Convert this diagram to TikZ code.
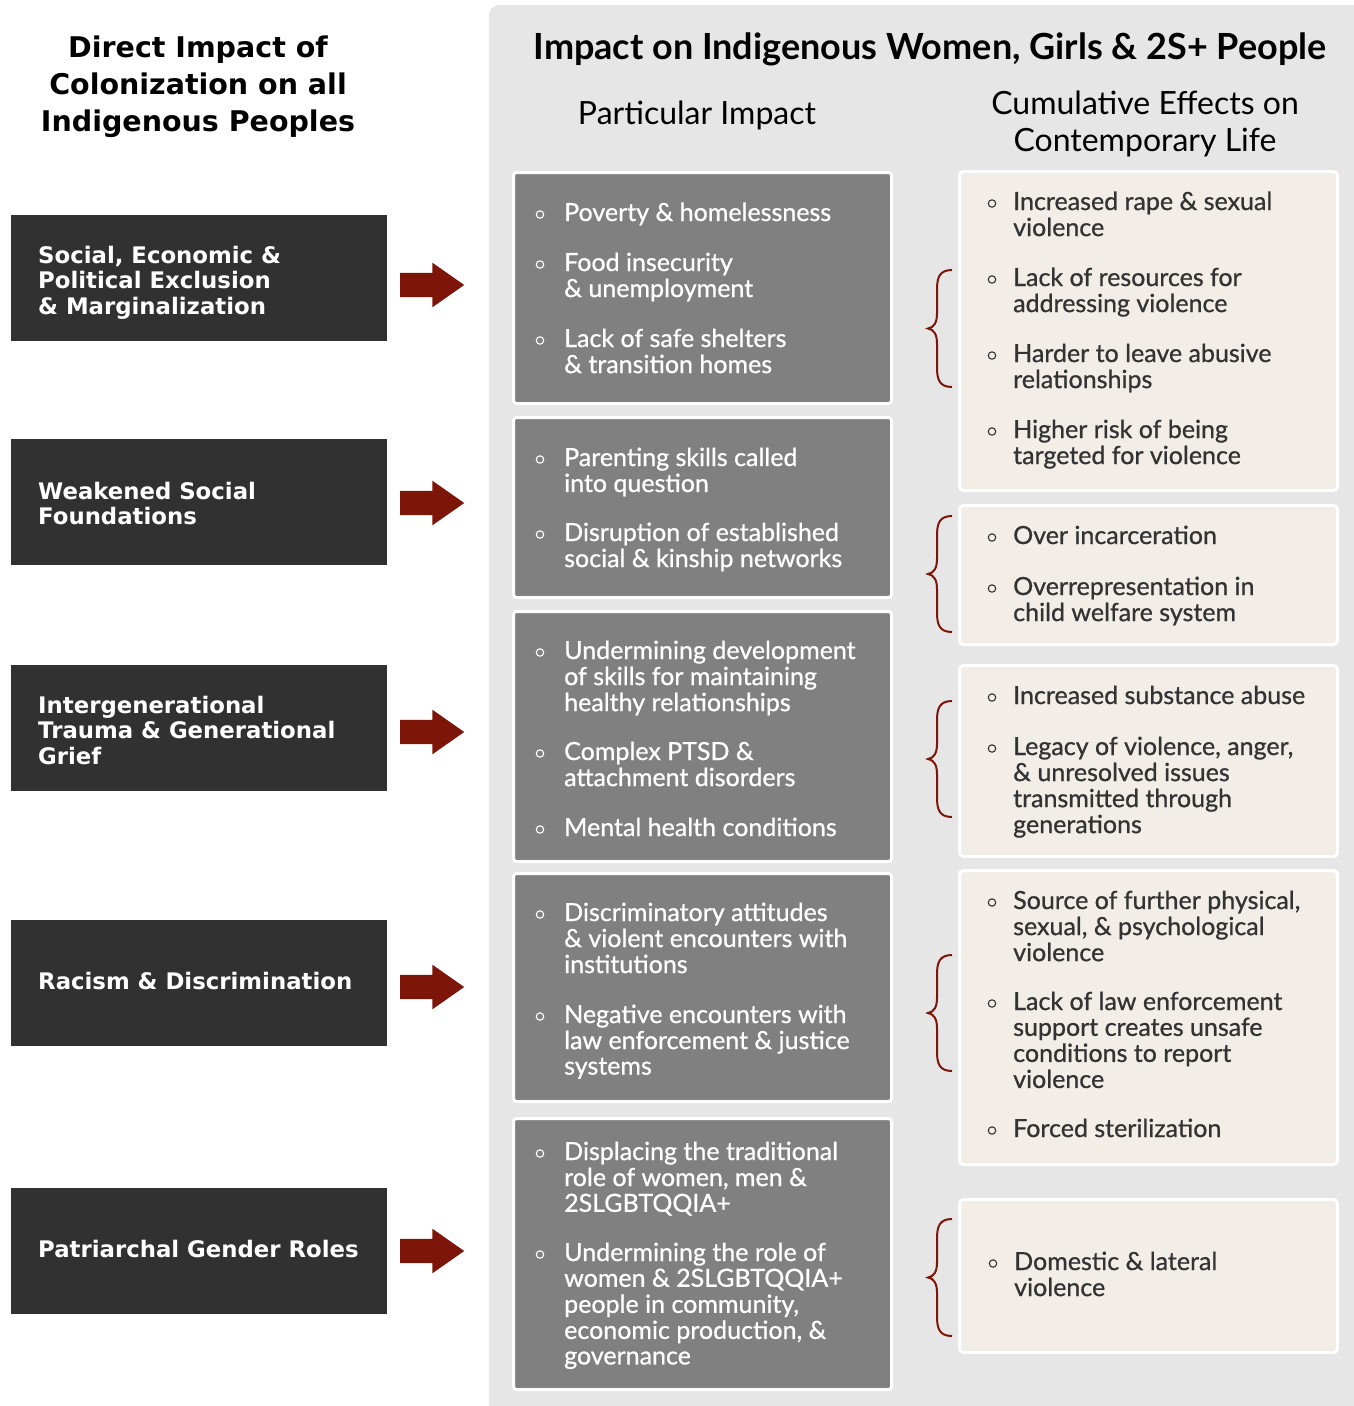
\documentclass[tikz,border=0pt]{standalone}
\usepackage{fontspec}
\setmainfont{Lato}
\newfontfamily\vfont{DejaVu Sans}
\newfontfamily\itemfont[FakeBold=0.8]{Lato}
\usetikzlibrary{shapes.arrows,calc}
\definecolor{panel}{HTML}{E6E6E6}
\definecolor{darkbox}{HTML}{313131}
\definecolor{arrowred}{HTML}{7E1509}
\definecolor{midgray}{HTML}{808080}
\definecolor{beige}{HTML}{F2EEE7}
\definecolor{txtdark}{HTML}{333333}
\newcommand\tl[1]{\begin{tabular}[t]{@{}l@{}}#1\end{tabular}}
\newcommand\tc[1]{\begin{tabular}[t]{@{}c@{}}#1\end{tabular}}
\newcommand\bitem[6]{%
  \node[itemtxt, text=#4, anchor=base west] (#1) at (#2,#3+2) {\tl{#6}};
  \draw[#4, line width=1.1pt] ($(#1.base west)+(-#5,-6.5)$) circle (3.7pt);
}
\tikzset{
  leftbox/.style={fill=darkbox, anchor=north west, inner sep=0pt, minimum width=376pt, minimum height=126pt},
  lefttxt/.style={text=white, font=\vfont\bfseries\fontsize{22.8}{25.5}\selectfont, inner sep=0pt, anchor=base west},
  redarrow/.style={single arrow, fill=arrowred, inner sep=0pt, minimum height=64pt, single arrow head extend=10pt, single arrow tip angle=70, anchor=tail},
  midbox/.style={fill=midgray, draw=white, line width=3pt, rounded corners=3pt, anchor=north west, inner sep=0pt},
  rightbox/.style={fill=beige, draw=white, line width=3pt, rounded corners=4pt, anchor=north west, inner sep=0pt},
  itemtxt/.style={font=\itemfont\fontsize{25}{25.5}\selectfont, inner sep=0pt},
  bracepath/.style={draw=arrowred, line width=2pt},
}
\newcommand\brc[2]{% top y, bottom y
  \pgfmathsetmacro\ym{(#1+#2)/2}
  \draw[bracepath] (952,#1) .. controls (939,#1) and (937,#1+8) .. (937,#1+20) -- (937,\ym-15) .. controls (937,\ym-6) and (934,\ym-1) .. (928,\ym) .. controls (934,\ym+1) and (937,\ym+6) .. (937,\ym+15) -- (937,#2-20) .. controls (937,#2-8) and (939,#2) .. (952,#2);
}
\begin{document}
\begin{tikzpicture}[x=1pt,y=-1pt]
\useasboundingbox (0,0) rectangle (1354,1406);
\fill[white] (0,0) rectangle (1354,1406);
\fill[panel] (1354,1406) -- (489,1406) [rounded corners=10pt] -- (489,5) [sharp corners] -- (1354,5) -- cycle;

% titles
\node[font=\vfont\bfseries\fontsize{28.5}{37}\selectfont, anchor=base, inner sep=0pt] (T1) at (198,57) {\tc{Direct Impact of\\Colonization on all\\Indigenous Peoples}};
\node[font=\bfseries\fontsize{36}{37}\selectfont, anchor=base, inner sep=0pt] (T2) at (930,59) {Impact on Indigenous Women, Girls \& 2S+ People};
\node[font=\fontsize{32}{37}\selectfont, anchor=base, inner sep=0pt] (T3) at (697,124) {Particular Impact};
\node[font=\fontsize{32}{37}\selectfont, anchor=base, inner sep=0pt] (T4) at (1145,114) {\tc{Cumulative Effects on\\Contemporary Life}};

% left boxes
\node[leftbox] (L1) at (11,215) {};
\node[leftbox] (L2) at (11,439) {};
\node[leftbox] (L3) at (11,665) {};
\node[leftbox] (L4) at (11,920) {};
\node[leftbox] (L5) at (11,1188) {};
\node[lefttxt] (L1t) at (38,263) {\tl{Social, Economic \&\\Political Exclusion\\\& Marginalization}};
\node[lefttxt] (L2t) at (38,499) {\tl{Weakened Social\\Foundations}};
\node[lefttxt] (L3t) at (38,713) {\tl{Intergenerational\\Trauma \& Generational\\Grief}};
\node[lefttxt] (L4t) at (38,989) {Racism \& Discrimination};
\node[lefttxt] (L5t) at (38,1257) {Patriarchal Gender Roles};

% arrows
\node[redarrow] (A1) at (400,285) {\rule{0pt}{24pt}};
\node[redarrow] (A2) at (400,503) {\rule{0pt}{24pt}};
\node[redarrow] (A3) at (400,732) {\rule{0pt}{24pt}};
\node[redarrow] (A4) at (400,987) {\rule{0pt}{24pt}};
\node[redarrow] (A5) at (400,1251) {\rule{0pt}{24pt}};

% middle boxes
\node[midbox, minimum width=378pt, minimum height=231pt] (M1) at (512,171) {};
\node[midbox, minimum width=378pt, minimum height=180pt] (M2) at (512,416) {};
\node[midbox, minimum width=378pt, minimum height=250pt] (M3) at (512,610) {};
\node[midbox, minimum width=378pt, minimum height=228pt] (M4) at (512,872) {};
\node[midbox, minimum width=378pt, minimum height=271pt] (M5) at (512,1117) {};

\bitem{m1a}{564}{219}{white}{24}{Poverty \& homelessness}
\bitem{m1b}{564}{269}{white}{24}{Food insecurity\\\& unemployment}
\bitem{m1c}{564}{345}{white}{24}{Lack of safe shelters\\\& transition homes}
\bitem{m2a}{564}{464}{white}{24}{Parenting skills called\\into question}
\bitem{m2b}{564}{539}{white}{24}{Disruption of established\\social \& kinship networks}
\bitem{m3a}{564}{657}{white}{24}{Undermining development\\of skills for maintaining\\healthy relationships}
\bitem{m3b}{564}{758}{white}{24}{Complex PTSD \&\\attachment disorders}
\bitem{m3c}{564}{834}{white}{24}{Mental health conditions}
\bitem{m4a}{564}{919}{white}{24}{Discriminatory attitudes\\\& violent encounters with\\institutions}
\bitem{m4b}{564}{1021}{white}{24}{Negative encounters with\\law enforcement \& justice\\systems}
\bitem{m5a}{564}{1158}{white}{24}{Displacing the traditional\\role of women, men \&\\2SLGBTQQIA+}
\bitem{m5b}{564}{1259}{white}{24}{Undermining the role of\\women \& 2SLGBTQQIA+\\people in community,\\economic production, \&\\governance}

% right boxes
\node[rightbox, minimum width=378pt, minimum height=319pt] (R1) at (958,170) {};
\node[rightbox, minimum width=378pt, minimum height=139pt] (R2) at (958,504) {};
\node[rightbox, minimum width=378pt, minimum height=191pt] (R3) at (958,664) {};
\node[rightbox, minimum width=378pt, minimum height=294pt] (R4) at (958,869) {};
\node[rightbox, minimum width=378pt, minimum height=153pt] (R5) at (958,1198) {};

\bitem{r1a}{1013}{208}{txtdark}{21}{Increased rape \& sexual\\violence}
\bitem{r1b}{1013}{284}{txtdark}{21}{Lack of resources for\\addressing violence}
\bitem{r1c}{1013}{360}{txtdark}{21}{Harder to leave abusive\\relationships}
\bitem{r1d}{1013}{436}{txtdark}{21}{Higher risk of being\\targeted for violence}
\bitem{r2a}{1013}{542}{txtdark}{21}{Over incarceration}
\bitem{r2b}{1013}{593}{txtdark}{21}{Overrepresentation in\\child welfare system}
\bitem{r3a}{1013}{702}{txtdark}{21}{Increased substance abuse}
\bitem{r3b}{1013}{753}{txtdark}{21}{Legacy of violence, anger,\\\& unresolved issues\\transmitted through\\generations}
\bitem{r4a}{1013}{907}{txtdark}{21}{Source of further physical,\\sexual, \& psychological\\violence}
\bitem{r4b}{1013}{1008}{txtdark}{21}{Lack of law enforcement\\support creates unsafe\\conditions to report\\violence}
\bitem{r4c}{1013}{1135}{txtdark}{21}{Forced sterilization}
\bitem{r5a}{1014}{1268}{txtdark}{21}{Domestic \& lateral\\violence}

% braces
\brc{270}{387}
\brc{516}{632}
\brc{701}{817}
\brc{955}{1071}
\brc{1219}{1336}
\end{tikzpicture}
\end{document}
